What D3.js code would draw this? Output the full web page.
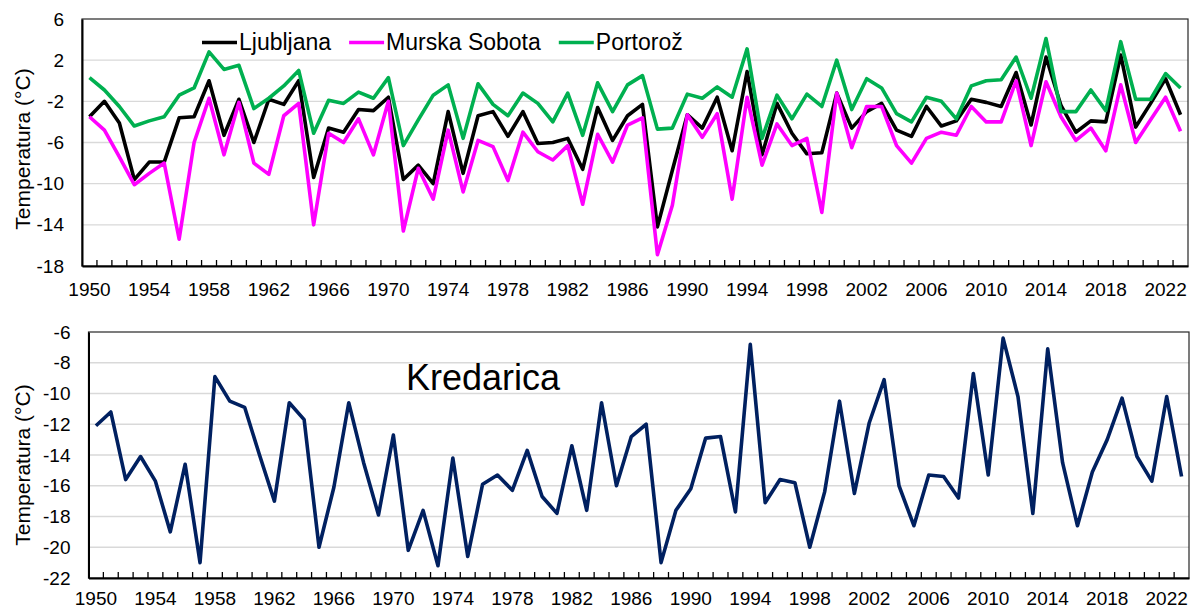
<!DOCTYPE html>
<html>
<head>
<meta charset="utf-8">
<script src="https://cdn.jsdelivr.net/npm/d3@7"></script>
<style>
  body { margin: 0; background: #fff; }
  text { font-family: "Liberation Sans", Arial, sans-serif; fill: #000; }
</style>
</head>
<body>
<svg id="chart" width="1192" height="610"></svg>
<script>
// years 1950..2023
const years = d3.range(1950, 2024);

const ljubljana = [
  -3.5, -2.0, -4.1, -9.6, -7.9, -7.9, -3.6, -3.5, 0.0, -5.3,
  -1.8, -6.0, -1.8, -2.3, 0.0, -9.4, -4.6, -5.0, -2.8, -2.9,
  -1.6, -9.6, -8.2, -10.0, -3.0, -9.0, -3.4, -3.0, -5.4, -3.0,
  -6.1, -6.0, -5.6, -8.6, -2.6, -5.8, -3.4, -2.3, -14.2, -8.7,
  -3.3, -4.6, -1.6, -6.8, 0.9, -7.2, -2.2, -5.1, -7.1, -7.0,
  -1.2, -4.6, -3.0, -2.2, -4.8, -5.4, -2.5, -4.4, -3.9, -1.8,
  -2.1, -2.5, 0.8, -4.3, 2.3, -2.4, -5.0, -3.9, -4.0, 2.5,
  -4.5, -2.2, 0.2, -3.3
];
const murskaSobota = [
  -3.5, -4.8, -7.4, -10.1, -9.0, -8.0, -15.4, -6.0, -1.7, -7.2,
  -2.1, -8.0, -9.1, -3.4, -2.2, -14.0, -5.1, -6.0, -3.7, -7.2,
  -2.0, -14.6, -8.5, -11.5, -4.8, -10.8, -5.8, -6.4, -9.7, -5.0,
  -6.9, -7.7, -6.3, -12.0, -5.2, -7.9, -4.3, -3.6, -16.9, -12.1,
  -3.3, -5.5, -3.2, -11.5, -1.6, -8.2, -4.2, -6.3, -5.6, -12.8,
  -1.2, -6.5, -2.5, -2.5, -6.3, -8.0, -5.6, -5.0, -5.3, -2.5,
  -4.0, -4.0, 0.0, -6.3, -0.1, -3.5, -5.8, -4.6, -6.8, -0.4,
  -6.0, -3.8, -1.6, -4.9
];
const portoroz = [
  0.3, -0.9, -2.5, -4.4, -3.9, -3.5, -1.4, -0.7, 2.8, 1.1,
  1.5, -2.7, -1.7, -0.5, 1.0, -5.1, -1.9, -2.2, -1.1, -1.7,
  0.3, -6.3, -3.8, -1.4, -0.4, -5.6, -0.3, -2.3, -3.4, -1.2,
  -2.2, -4.0, -1.2, -5.3, -0.2, -3.0, -0.4, 0.5, -4.7, -4.6,
  -1.3, -1.7, -0.6, -1.6, 3.1, -5.6, -1.4, -3.7, -1.3, -2.5,
  2.0, -2.8, 0.2, -0.7, -3.2, -4.0, -1.6, -2.0, -3.7, -0.5,
  0.0, 0.1, 2.3, -1.7, 4.1, -3.0, -3.0, -0.9, -2.9, 3.8,
  -1.8, -1.8, 0.7, -0.7
];
const kredarica = [
  -12.1, -11.2, -15.6, -14.1, -15.7, -19.0, -14.6, -21.0, -8.9, -10.5,
  -10.9, -14.0, -17.0, -10.6, -11.7, -20.0, -16.1, -10.6, -14.5, -17.9,
  -12.7, -20.2, -17.6, -21.2, -14.2, -20.6, -15.9, -15.3, -16.3, -13.7,
  -16.7, -17.8, -13.4, -17.6, -10.6, -16.0, -12.8, -12.0, -21.0, -17.6,
  -16.2, -12.9, -12.8, -17.7, -6.8, -17.1, -15.6, -15.8, -20.0, -16.4,
  -10.5, -16.5, -11.9, -9.1, -16.0, -18.6, -15.3, -15.4, -16.8, -8.7,
  -15.3, -6.4, -10.2, -17.8, -7.1, -14.5, -18.6, -15.1, -13.0, -10.3,
  -14.1, -15.7, -10.2, -15.4
];

const topTicks = [6, 2, -2, -6, -10, -14, -18];
const bottomTicks = [-6, -8, -10, -12, -14, -16, -18, -20, -22];
const xLabelYears = years.filter(y => (y - 1950) % 4 === 0);

const topSeries = [
  { name: "Ljubljana", values: ljubljana, color: "#000000" },
  { name: "Murska Sobota", values: murskaSobota, color: "#ff00ff" },
  { name: "Portorož", values: portoroz, color: "#00b050" }
];
const bottomSeries = [
  { name: "Kredarica", values: kredarica, color: "#002060" }
];

const svg = d3.select("#chart");

// draws one panel: box, gridlines, axes, lines
function drawPanel(box, ticks, series, labelPad) {
  const x = d3.scaleBand().domain(years).range([box.left, box.right]);
  const y = d3.scaleLinear().domain([ticks[ticks.length - 1], ticks[0]]).range([box.bottom, box.top]);
  const g = svg.append("g");

  // gridlines
  g.selectAll("line.grid")
    .data(ticks.slice(1, -1))
    .enter().append("line")
    .attr("x1", box.left).attr("x2", box.right)
    .attr("y1", d => y(d)).attr("y2", d => y(d))
    .attr("stroke", "#d9d9d9").attr("stroke-width", 1.3);

  // border
  g.append("rect")
    .attr("x", box.left).attr("y", box.top)
    .attr("width", box.right - box.left).attr("height", box.bottom - box.top)
    .attr("fill", "none").attr("stroke", "#262626").attr("stroke-width", 1.2);

  // y axis
  const yAxis = d3.axisLeft(y).tickValues(ticks).tickSize(0).tickPadding(18)
    .tickFormat(d => String(d));
  g.append("g").attr("transform", `translate(${box.left},0)`).call(yAxis)
    .call(a => a.select(".domain").attr("stroke", "#000").attr("stroke-width", 2))
    .selectAll("text").style("font-size", "19px").attr("fill", "#000")
    .style("font-family", "'Liberation Sans', Arial, sans-serif");

  // x axis labels
  const xAxis = d3.axisBottom(x).tickValues(xLabelYears).tickSize(0).tickPadding(labelPad);
  g.append("g").attr("transform", `translate(0,${box.bottom})`).call(xAxis)
    .call(a => a.select(".domain").attr("stroke", "#000").attr("stroke-width", 2))
    .selectAll("text").style("font-size", "19px").attr("fill", "#000")
    .style("font-family", "'Liberation Sans', Arial, sans-serif");

  // inward tick marks at category boundaries
  g.selectAll("line.tick")
    .data(years.slice(1))
    .enter().append("line")
    .attr("x1", d => x(d)).attr("x2", d => x(d))
    .attr("y1", box.bottom).attr("y2", box.bottom - 6)
    .attr("stroke", "#000").attr("stroke-width", 1.3);

  const line = d3.line()
    .x((d, i) => x(years[i]) + x.bandwidth() / 2)
    .y(d => y(d));

  series.forEach(s => {
    g.append("path")
      .datum(s.values)
      .attr("d", line)
      .attr("fill", "none")
      .attr("stroke", s.color)
      .attr("stroke-width", 3.6)
      .attr("stroke-linejoin", "round");
  });
  return { x, y };
}

drawPanel({ left: 82, right: 1188, top: 19, bottom: 266 }, topTicks, topSeries, 17);
drawPanel({ left: 88.5, right: 1189, top: 332, bottom: 578 }, bottomTicks, bottomSeries, 14);

// axis titles
[[149], [465]].forEach(([cy]) => {
  svg.append("text")
    .attr("transform", `translate(30,${cy}) rotate(-90)`)
    .attr("text-anchor", "middle")
    .style("font-size", "21px")
    .text("Temperatura (°C)");
});

// legend
let lx = 202;
topSeries.forEach(s => {
  svg.append("line")
    .attr("x1", lx).attr("x2", lx + 35)
    .attr("y1", 42.5).attr("y2", 42.5)
    .attr("stroke", s.color).attr("stroke-width", 3.6);
  const t = svg.append("text")
    .attr("x", lx + 37).attr("y", 50)
    .style("font-size", "23px")
    .text(s.name);
  lx = lx + 37 + t.node().getComputedTextLength() + 18;
});

// station label
svg.append("text")
  .attr("x", 406).attr("y", 390)
  .style("font-size", "36px")
  .text("Kredarica");
</script>
</body>
</html>
